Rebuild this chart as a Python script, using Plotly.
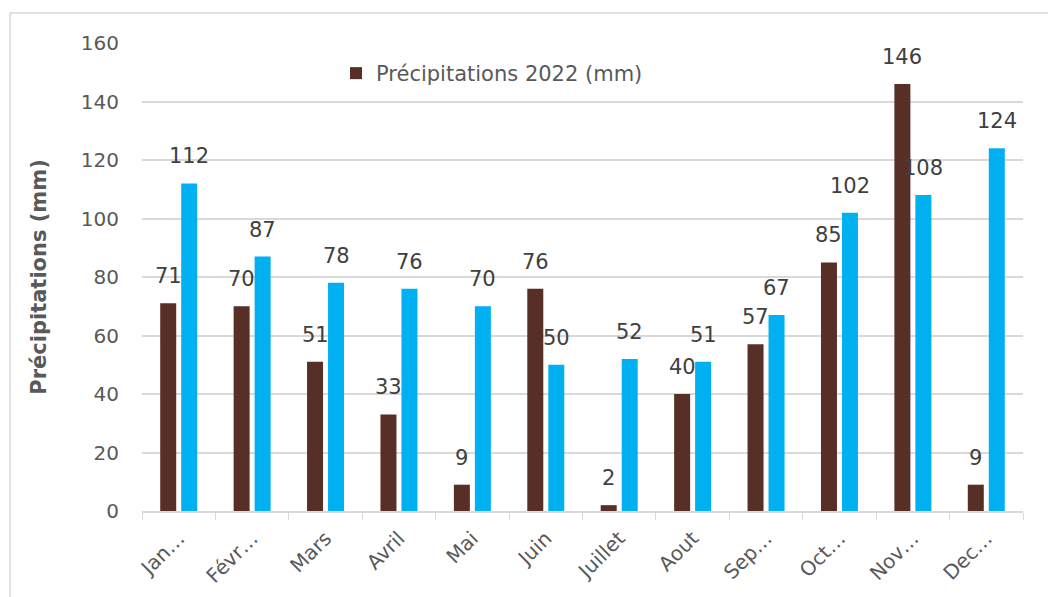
import plotly.graph_objects as go

mois = ["Jan…", "Févr…", "Mars", "Avril", "Mai", "Juin", "Juillet",
        "Aout", "Sep…", "Oct…", "Nov…", "Dec…"]
precip_2022 = [71, 70, 51, 33, 9, 76, 2, 40, 57, 85, 146, 9]
precip_normales = [112, 87, 78, 76, 70, 50, 52, 51, 67, 102, 108, 124]
y_ticks = [0, 20, 40, 60, 80, 100, 120, 140, 160]

BRUN = "#582F27"
BLEU = "#00B0F0"
FONT = "DejaVu Sans"

fig = go.Figure()
fig.add_trace(go.Bar(
    x=mois, y=precip_2022, name="Précipitations 2022 (mm)",
    marker=dict(color=BRUN, line=dict(width=0)),
    offsetgroup="a",
))
fig.add_trace(go.Bar(
    x=mois, y=precip_normales, name="Précipitations normales (mm)",
    marker=dict(color=BLEU, line=dict(width=0)),
    offsetgroup="b", showlegend=False,
))

# value labels above each bar (placed by annotation so they sit well clear of the bar)
n = len(mois)
BARGAP = 0.428
slot = (1 - BARGAP) / 2
for i, (a, b) in enumerate(zip(precip_2022, precip_normales)):
    for v, off in ((a, -slot / 2), (b, slot / 2)):
        fig.add_annotation(
            x=i + off, y=v, xref="x", yref="y", text=str(v),
            showarrow=False, yanchor="bottom", xanchor="center", yshift=13,
            font=dict(family=FONT, size=21, color="#404040"),
        )

# outer chart frame
W, H = 1048, 597
L, R, T, B = 142, 25, 43, 86
pw, ph = W - L - R, H - T - B
fig.add_shape(
    type="rect", xref="paper", yref="paper", layer="below",
    x0=(10 - L) / pw, x1=(W + 20 - L) / pw,
    y0=-(B + 20) / ph, y1=(H - B - 13) / ph,
    line=dict(color="#D9D9D9", width=1.5), fillcolor="rgba(0,0,0,0)",
)

fig.update_layout(
    width=W, height=H,
    margin=dict(l=L, r=R, t=T, b=B, autoexpand=False),
    paper_bgcolor="white", plot_bgcolor="white",
    barmode="group", bargap=BARGAP, bargroupgap=0.238,
    font=dict(family=FONT, color="#595959"),
    legend=dict(
        x=(336 - L) / pw, y=(H - B - 53) / ph, xanchor="left", yanchor="top",
        font=dict(family=FONT, size=21, color="#595959"),
        bgcolor="rgba(0,0,0,0)", itemwidth=30,
    ),
    xaxis=dict(
        type="category", tickangle=-45, tickson="boundaries",
        ticks="outside", ticklen=7, tickcolor="#D9D9D9",
        showline=True, linecolor="#D9D9D9", linewidth=1.5,
        ticklabelstandoff=6, automargin=False,
        tickfont=dict(family=FONT, size=20, color="#595959"),
        showgrid=False, range=[-0.5, n - 0.5],
    ),
    yaxis=dict(
        range=[0, 160], tickvals=y_ticks, showgrid=True,
        gridcolor="#D9D9D9", gridwidth=1.5, zeroline=False,
        showline=False, ticks="", ticklabelstandoff=22, automargin=False,
        tickfont=dict(family=FONT, size=20, color="#595959"),
        title=dict(text="<b>Précipitations (mm)</b>", standoff=28,
                   font=dict(family=FONT, size=21, color="#595959")),
    ),
)

fig.write_html("out.html")
